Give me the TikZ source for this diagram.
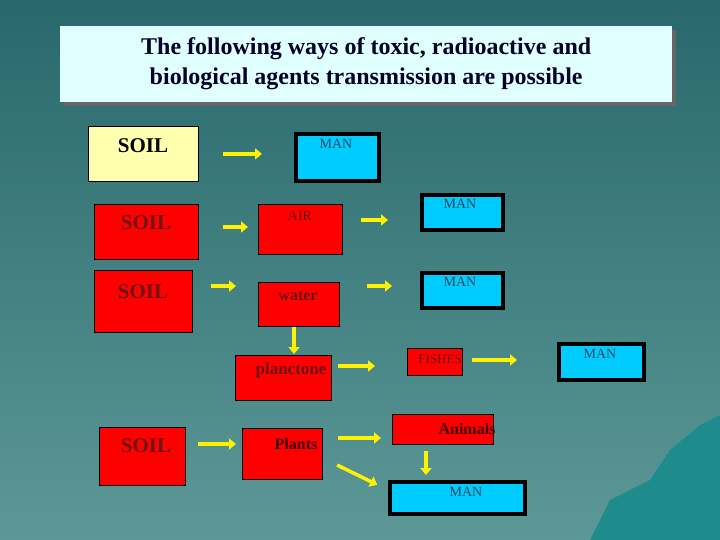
\documentclass[tikz,border=0pt]{standalone}
\usepackage{fontspec}
\setmainfont{Liberation Serif}
\usetikzlibrary{arrows.meta}
\definecolor{bgtop}{RGB}{40,104,108}
\definecolor{bgbot}{RGB}{92,152,150}
\definecolor{mount}{RGB}{30,140,140}
\definecolor{titlebg}{RGB}{224,255,255}
\definecolor{soily}{RGB}{255,255,176}
\definecolor{mancyan}{RGB}{0,204,255}
\definecolor{mantext}{RGB}{20,70,90}
\definecolor{redtext}{RGB}{110,20,20}
\newcommand{\fs}[1]{\fontsize{#1}{#1}\selectfont}
\begin{document}
\begin{tikzpicture}[x=1pt,y=-1pt,
 box/.style={anchor=north west,inner sep=0pt,draw=black,line width=0.8pt},
 red/.style={box,fill=red},
 man/.style={box,fill=mancyan,line width=4pt},
 lbl/.style={text=redtext,font=\fs{16}\bfseries},
 mlbl/.style={text=mantext,font=\fs{14}},
 big/.style={font=\fs{21}\bfseries},
 arr/.style={draw=yellow,line width=3.5pt,-{Triangle[length=7pt,width=11pt]}}]
\shade[top color=bgtop,bottom color=bgbot] (0,0) rectangle (720,540);
\fill[mount] (590,540) -- (610,500) -- (650,480) -- (670,450) -- (700,425) -- (720,415) -- (720,540) -- cycle;
\fill[black!60] (64,30) rectangle (676,106);
\node[anchor=north west,fill=titlebg,minimum width=612pt,minimum height=76pt,inner sep=0pt,align=center,font=\fontsize{24}{30}\selectfont\bfseries,text=black!85!blue] (t) at (60,26) {The following ways of toxic, radioactive and\\biological agents transmission are possible};
% row 1
\node[box,fill=soily,minimum width=110pt,minimum height=55pt] (s1) at (88,126) {};
\node[big] (s1t) at (143,146) {SOIL};
\node[man,minimum width=83pt,minimum height=47pt] (m1) at (294,132) {};
\node[mlbl] (m1t) at (336,144) {MAN};
% row 2
\node[red,minimum width=104pt,minimum height=55pt] (s2) at (94,204) {};
\node[big,text=redtext] (s2t) at (146,223) {SOIL};
\node[red,minimum width=84pt,minimum height=50pt] (air) at (258,204) {};
\node[text=redtext,font=\fs{14}] (airt) at (300,216) {AIR};
\node[man,minimum width=81pt,minimum height=35pt] (m2) at (420,193) {};
\node[mlbl] (m2t) at (460,204) {MAN};
% row 3
\node[red,minimum width=98pt,minimum height=62pt] (s3) at (94,270) {};
\node[big,text=redtext] (s3t) at (143,292) {SOIL};
\node[red,minimum width=81pt,minimum height=44pt] (w) at (258,282) {};
\node[lbl] (wt) at (298,296) {water};
\node[man,minimum width=81pt,minimum height=35pt] (m3) at (420,271) {};
\node[mlbl] (m3t) at (460,282) {MAN};
% row 4
\node[red,minimum width=96pt,minimum height=45pt] (p) at (235,355) {};
\node[lbl,font=\fs{17}\bfseries] (pt) at (291,370) {planctone};
\node[red,minimum width=55pt,minimum height=27pt] (f) at (407,348) {};
\node[text=redtext,font=\fs{13}] (ft) at (440,359) {FISHES};
\node[man,minimum width=85pt,minimum height=36pt] (m4) at (557,342) {};
\node[mlbl] (m4t) at (600,354) {MAN};
% row 5
\node[red,minimum width=86pt,minimum height=58pt] (s4) at (99,427) {};
\node[big,text=redtext] (s4t) at (146,446) {SOIL};
\node[red,minimum width=80pt,minimum height=51pt] (pl) at (242,428) {};
\node[lbl,text=red!25!black] (plt) at (296,444) {Plants};
\node[red,minimum width=101pt,minimum height=30pt] (an) at (392,414) {};
\node[lbl,text=red!25!black] (ant) at (467,429) {Animals};
\node[man,minimum width=135pt,minimum height=32pt] (m5) at (388,480) {};
\node[mlbl] (m5t) at (466,492) {MAN};
% arrows
\draw[arr,shorten <=24pt,shorten >=32pt] (s1.east) -- (m1.west|-s1.east);
\draw[arr,shorten <=24pt,shorten >=10pt] (s2.east|-0,227) -- (air.west|-0,227);
\draw[arr,shorten <=18pt,shorten >=32pt] (air.east|-0,220) -- (m2.west|-0,220);
\draw[arr,shorten <=18pt,shorten >=22pt] (s3.east|-0,286) -- (w.west|-0,286);
\draw[arr,shorten <=27pt,shorten >=28pt] (w.east|-0,286) -- (m3.west|-0,286);
\draw[arr,shorten <=0pt,shorten >=1pt] (w.south-|294,0) -- (p.north-|294,0);
\draw[arr,shorten <=6pt,shorten >=32pt] (p.east|-0,366) -- (f.west|-0,366);
\draw[arr,shorten <=9pt,shorten >=40pt] (f.east|-0,360) -- (m4.west|-0,360);
\draw[arr,shorten <=12pt,shorten >=6pt] (s4.east|-0,444) -- (pl.west|-0,444);
\draw[arr,shorten <=15pt,shorten >=11pt] (pl.east|-0,438) -- (an.west|-0,438);
\draw[arr,shorten <=6pt,shorten >=5pt] (an.south-|426,0) -- (m5.north-|426,0);
\draw[arr,shorten <=16pt,shorten >=12pt] (pl.east|-0,458) -- (m5.west|-0,490);
\end{tikzpicture}
\end{document}
